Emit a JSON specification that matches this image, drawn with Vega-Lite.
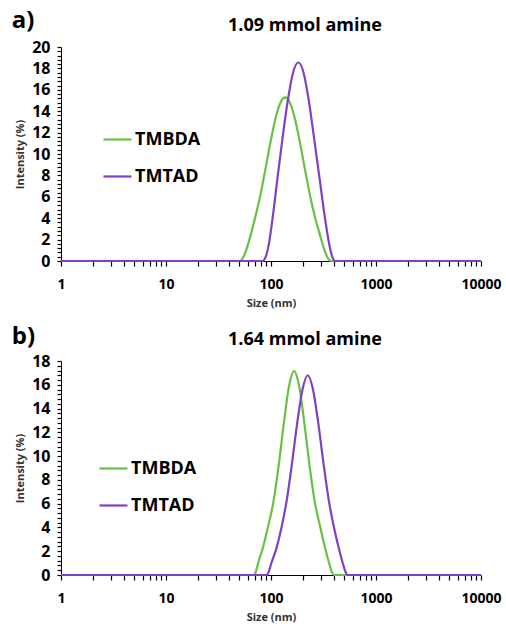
{
  "$schema": "https://vega.github.io/schema/vega-lite/v6.json",
  "padding": {"left": 11, "top": 9, "right": 5, "bottom": 5},
  "spacing": 17,
  "resolve": {"scale": {"color": "independent"}, "legend": {"color": "independent"}},
  "config": {
    "font": "Open Sans",
    "view": {"stroke": null},
    "axis": {"grid": false, "domainColor": "black", "tickColor": "black", "labelColor": "black", "labelFontWeight": "bold", "labelFontSize": 14, "titleFontWeight": "bold", "titleFontSize": 11, "titleColor": "#333333", "labelOverlap": false},
    "legend": {"labelFontSize": 18, "labelFontWeight": "bold", "labelColor": "black", "symbolType": "stroke", "symbolSize": 784, "symbolStrokeWidth": 2.2, "rowPadding": 12, "labelOffset": 2},
    "title": {"color": "black", "fontWeight": "bold"}
  },
  "vconcat": [
    {
      "title": {"text": "a)", "anchor": "start", "fontSize": 24, "offset": -16, "dx": -3},
      "resolve": {"scale": {"color": "independent"}, "legend": {"color": "independent"}},
      "vconcat": [
        {
          "width": 420, "height": 214,
          "title": {"text": "1.09 mmol amine", "fontSize": 18, "anchor": "middle", "dx": 34, "offset": 4},
          "data": {"values": [
            {"size": 1, "intensity": 0, "amine": "TMBDA"},
            {"size": 50.1, "intensity": 0, "amine": "TMBDA"},
            {"size": 53.7, "intensity": 0.25, "amine": "TMBDA"},
            {"size": 57.5, "intensity": 0.9, "amine": "TMBDA"},
            {"size": 63.1, "intensity": 2.2, "amine": "TMBDA"},
            {"size": 70.8, "intensity": 4.1, "amine": "TMBDA"},
            {"size": 79.4, "intensity": 6.2, "amine": "TMBDA"},
            {"size": 89.1, "intensity": 8.75, "amine": "TMBDA"},
            {"size": 100, "intensity": 11.35, "amine": "TMBDA"},
            {"size": 112.2, "intensity": 13.6, "amine": "TMBDA"},
            {"size": 125.9, "intensity": 15.0, "amine": "TMBDA"},
            {"size": 136.5, "intensity": 15.3, "amine": "TMBDA"},
            {"size": 147.9, "intensity": 15.0, "amine": "TMBDA"},
            {"size": 166.0, "intensity": 13.6, "amine": "TMBDA"},
            {"size": 186.2, "intensity": 11.35, "amine": "TMBDA"},
            {"size": 208.9, "intensity": 8.75, "amine": "TMBDA"},
            {"size": 234.4, "intensity": 6.2, "amine": "TMBDA"},
            {"size": 263.0, "intensity": 4.06, "amine": "TMBDA"},
            {"size": 295.1, "intensity": 2.3, "amine": "TMBDA"},
            {"size": 323.6, "intensity": 1.0, "amine": "TMBDA"},
            {"size": 346.7, "intensity": 0.3, "amine": "TMBDA"},
            {"size": 371.5, "intensity": 0, "amine": "TMBDA"},
            {"size": 10000, "intensity": 0, "amine": "TMBDA"},
            {"size": 1, "intensity": 0, "amine": "TMTAD"},
            {"size": 83.2, "intensity": 0, "amine": "TMTAD"},
            {"size": 89.1, "intensity": 0.4, "amine": "TMTAD"},
            {"size": 95.5, "intensity": 1.6, "amine": "TMTAD"},
            {"size": 102.3, "intensity": 3.6, "amine": "TMTAD"},
            {"size": 114.8, "intensity": 7.6, "amine": "TMTAD"},
            {"size": 128.8, "intensity": 11.5, "amine": "TMTAD"},
            {"size": 144.5, "intensity": 15.0, "amine": "TMTAD"},
            {"size": 162.2, "intensity": 17.6, "amine": "TMTAD"},
            {"size": 182.0, "intensity": 18.55, "amine": "TMTAD"},
            {"size": 204.2, "intensity": 17.6, "amine": "TMTAD"},
            {"size": 229.1, "intensity": 15.0, "amine": "TMTAD"},
            {"size": 257.0, "intensity": 11.5, "amine": "TMTAD"},
            {"size": 288.4, "intensity": 7.9, "amine": "TMTAD"},
            {"size": 323.6, "intensity": 4.3, "amine": "TMTAD"},
            {"size": 354.8, "intensity": 1.8, "amine": "TMTAD"},
            {"size": 380.2, "intensity": 0.5, "amine": "TMTAD"},
            {"size": 407.4, "intensity": 0, "amine": "TMTAD"},
            {"size": 10000, "intensity": 0, "amine": "TMTAD"}
          ]},
          "mark": {"type": "line", "interpolate": "monotone", "strokeWidth": 2.2},
          "encoding": {
            "x": {"field": "size", "type": "quantitative", "scale": {"type": "log", "domain": [1, 10000], "nice": false},
                  "axis": {"values": [1,2,3,4,5,6,7,8,9,10,20,30,40,50,60,70,80,90,100,200,300,400,500,600,700,800,900,1000,2000,3000,4000,5000,6000,7000,8000,9000,10000], "format": "d", "labelExpr": "indexof([1,10,100,1000,10000], datum.value) >= 0 ? datum.label : ''", "tickSize": 5, "tickWidth": 1.2, "labelPadding": 11, "labelFlush": false, "labelOverlap": false, "title": "Size (nm)", "titlePadding": 6}},
            "y": {"field": "intensity", "type": "quantitative", "scale": {"domain": [0, 20], "nice": false},
                  "axis": {"values": [0,0.4,0.8,1.2,1.6,2,2.4,2.8,3.2,3.6,4,4.4,4.8,5.2,5.6,6,6.4,6.8,7.2,7.6,8,8.4,8.8,9.2,9.6,10,10.4,10.8,11.2,11.6,12,12.4,12.8,13.2,13.6,14,14.4,14.8,15.2,15.6,16,16.4,16.8,17.2,17.6,18,18.4,18.8,19.2,19.6,20], "labelExpr": "datum.value % 2 === 0 ? toString(datum.value) : ''", "labelFontSize": 16, "labelOverlap": false, "tickSize": 4, "tickWidth": 1.2, "labelPadding": 7, "title": "Intensity (%)", "titlePadding": 6}},
            "color": {"field": "amine", "type": "nominal", "scale": {"domain": ["TMBDA", "TMTAD"], "range": ["#6abf45", "#8040c6"]},
                      "legend": {"title": null, "orient": "none", "legendX": 41, "legendY": 77}}
          }
        }
      ]
    },
    {
      "title": {"text": "b)", "anchor": "start", "fontSize": 24, "offset": -18, "dx": -3},
      "resolve": {"scale": {"color": "independent"}, "legend": {"color": "independent"}},
      "vconcat": [
        {
          "width": 420, "height": 214,
          "title": {"text": "1.64 mmol amine", "fontSize": 18, "anchor": "middle", "dx": 34, "offset": 4},
          "data": {"values": [
            {"size": 1, "intensity": 0, "amine": "TMBDA"},
            {"size": 69.2, "intensity": 0, "amine": "TMBDA"},
            {"size": 72.4, "intensity": 0.4, "amine": "TMBDA"},
            {"size": 75.9, "intensity": 1.1, "amine": "TMBDA"},
            {"size": 83.2, "intensity": 2.2, "amine": "TMBDA"},
            {"size": 93.3, "intensity": 4.0, "amine": "TMBDA"},
            {"size": 104.7, "intensity": 6.0, "amine": "TMBDA"},
            {"size": 117.5, "intensity": 9.0, "amine": "TMBDA"},
            {"size": 131.8, "intensity": 12.6, "amine": "TMBDA"},
            {"size": 147.9, "intensity": 15.8, "amine": "TMBDA"},
            {"size": 166.0, "intensity": 17.15, "amine": "TMBDA"},
            {"size": 186.2, "intensity": 15.8, "amine": "TMBDA"},
            {"size": 208.9, "intensity": 12.6, "amine": "TMBDA"},
            {"size": 234.4, "intensity": 9.0, "amine": "TMBDA"},
            {"size": 263.0, "intensity": 6.0, "amine": "TMBDA"},
            {"size": 295.1, "intensity": 4.0, "amine": "TMBDA"},
            {"size": 331.1, "intensity": 2.1, "amine": "TMBDA"},
            {"size": 363.1, "intensity": 0.8, "amine": "TMBDA"},
            {"size": 380.2, "intensity": 0.25, "amine": "TMBDA"},
            {"size": 398.1, "intensity": 0, "amine": "TMBDA"},
            {"size": 10000, "intensity": 0, "amine": "TMBDA"},
            {"size": 1, "intensity": 0, "amine": "TMTAD"},
            {"size": 91.2, "intensity": 0, "amine": "TMTAD"},
            {"size": 95.5, "intensity": 0.3, "amine": "TMTAD"},
            {"size": 100, "intensity": 0.9, "amine": "TMTAD"},
            {"size": 112.2, "intensity": 2.2, "amine": "TMTAD"},
            {"size": 125.9, "intensity": 4.0, "amine": "TMTAD"},
            {"size": 141.3, "intensity": 6.3, "amine": "TMTAD"},
            {"size": 158.5, "intensity": 9.4, "amine": "TMTAD"},
            {"size": 177.8, "intensity": 12.8, "amine": "TMTAD"},
            {"size": 199.5, "intensity": 15.6, "amine": "TMTAD"},
            {"size": 223.9, "intensity": 16.8, "amine": "TMTAD"},
            {"size": 251.2, "intensity": 15.6, "amine": "TMTAD"},
            {"size": 281.8, "intensity": 12.8, "amine": "TMTAD"},
            {"size": 316.2, "intensity": 9.4, "amine": "TMTAD"},
            {"size": 354.8, "intensity": 6.3, "amine": "TMTAD"},
            {"size": 398.1, "intensity": 4.0, "amine": "TMTAD"},
            {"size": 446.7, "intensity": 2.1, "amine": "TMTAD"},
            {"size": 489.8, "intensity": 0.8, "amine": "TMTAD"},
            {"size": 512.9, "intensity": 0.25, "amine": "TMTAD"},
            {"size": 537.0, "intensity": 0, "amine": "TMTAD"},
            {"size": 10000, "intensity": 0, "amine": "TMTAD"}
          ]},
          "mark": {"type": "line", "interpolate": "monotone", "strokeWidth": 2.2},
          "encoding": {
            "x": {"field": "size", "type": "quantitative", "scale": {"type": "log", "domain": [1, 10000], "nice": false},
                  "axis": {"values": [1,2,3,4,5,6,7,8,9,10,20,30,40,50,60,70,80,90,100,200,300,400,500,600,700,800,900,1000,2000,3000,4000,5000,6000,7000,8000,9000,10000], "format": "d", "labelExpr": "indexof([1,10,100,1000,10000], datum.value) >= 0 ? datum.label : ''", "tickSize": 5, "tickWidth": 1.2, "labelPadding": 11, "labelFlush": false, "labelOverlap": false, "title": "Size (nm)", "titlePadding": 6}},
            "y": {"field": "intensity", "type": "quantitative", "scale": {"domain": [0, 18], "nice": false},
                  "axis": {"values": [0,0.4,0.8,1.2,1.6,2,2.4,2.8,3.2,3.6,4,4.4,4.8,5.2,5.6,6,6.4,6.8,7.2,7.6,8,8.4,8.8,9.2,9.6,10,10.4,10.8,11.2,11.6,12,12.4,12.8,13.2,13.6,14,14.4,14.8,15.2,15.6,16,16.4,16.8,17.2,17.6,18], "labelExpr": "datum.value % 2 === 0 ? toString(datum.value) : ''", "labelFontSize": 16, "labelOverlap": false, "tickSize": 4, "tickWidth": 1.2, "labelPadding": 7, "title": "Intensity (%)", "titlePadding": 6}},
            "color": {"field": "amine", "type": "nominal", "scale": {"domain": ["TMBDA", "TMTAD"], "range": ["#6abf45", "#8040c6"]},
                      "legend": {"title": null, "orient": "none", "legendX": 37, "legendY": 92}}
          }
        }
      ]
    }
  ]
}
